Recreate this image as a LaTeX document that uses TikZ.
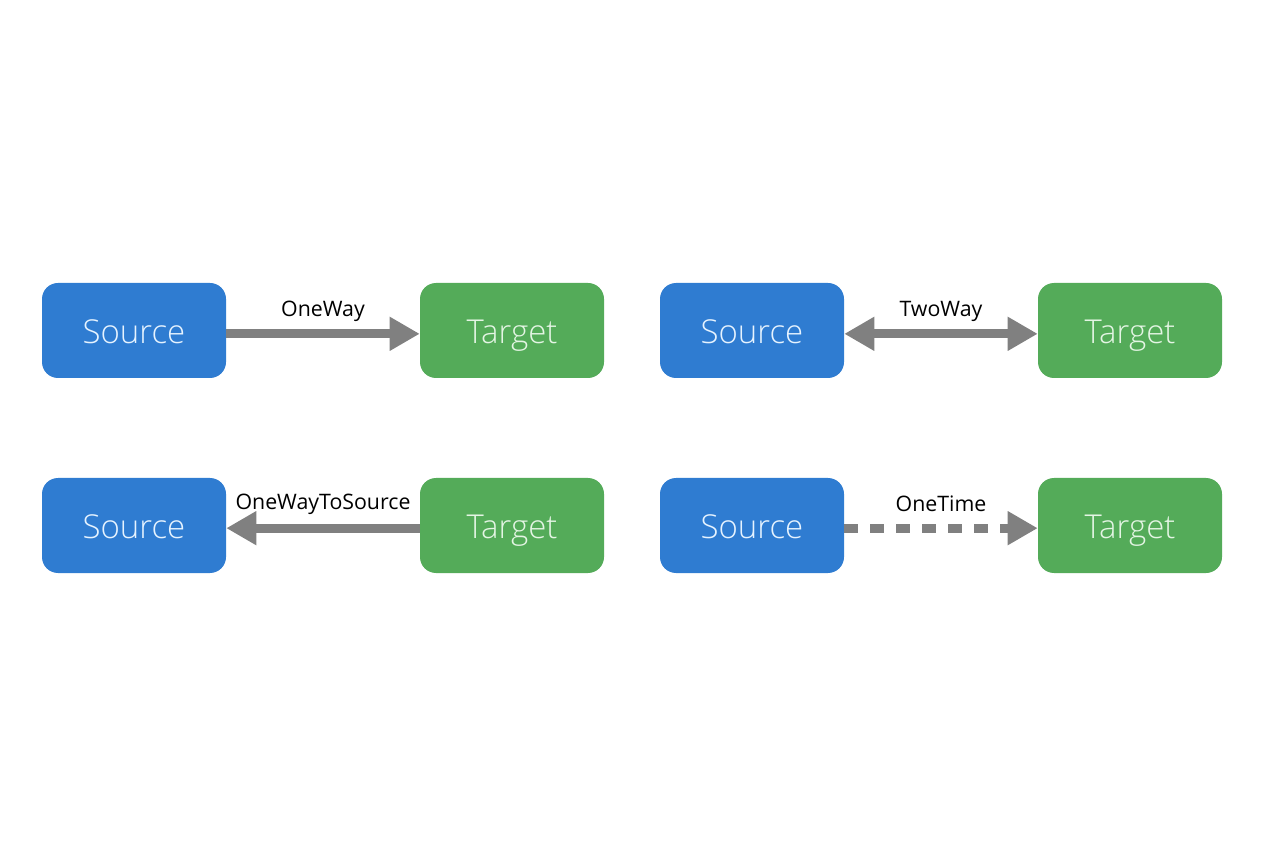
\documentclass[tikz,border=0pt]{standalone}
\usepackage{fontspec}
\setmainfont{Open Sans}
\newfontfamily\boxfont{Open Sans Light}
\usetikzlibrary{arrows.meta}
\definecolor{srcblue}{HTML}{2F7CD1}
\definecolor{tgtgreen}{HTML}{54AB59}
\definecolor{linkgray}{HTML}{808080}
\definecolor{srctext}{HTML}{E6F3FF}
\definecolor{tgttext}{HTML}{E4F5E4}
\tikzset{
  x=0.75pt,y=-0.75pt,
  boxbase/.style={minimum width=138pt,minimum height=71.25pt,rounded corners=12pt,inner sep=0pt,text height=18.8pt,text depth=0pt,font=\boxfont\fontsize{24.7}{28}\selectfont},
  srcbox/.style={boxbase,fill=srcblue,text=srctext},
  tgtbox/.style={boxbase,fill=tgtgreen,text=tgttext},
  link/.style={draw=linkgray,line width=6.5pt},
  tipend/.style={-{Triangle[length=22.5pt,width=24pt,fill=linkgray]}},
  tipboth/.style={{Triangle[length=22.5pt,width=24pt,fill=linkgray]}-{Triangle[length=22.5pt,width=24pt,fill=linkgray]}},
  tipstart/.style={{Triangle[length=22.5pt,width=24pt,fill=linkgray]}-},
  dashlink/.style={dash pattern=on 10.5pt off 9pt},
  linklabel/.style={text=black,font=\fontsize{16}{19}\selectfont,inner sep=0pt,anchor=base}
}
\begin{document}
\begin{tikzpicture}
\useasboundingbox (0,0) rectangle (1264,848);
\node[srcbox] (s1) at (134,330.5) {Source};
\node[tgtbox] (t1) at (512,330.5) {Target};
\node[srcbox] (s2) at (752,330.5) {Source};
\node[tgtbox] (t2) at (1130,330.5) {Target};
\node[srcbox] (s3) at (134,525.5) {Source};
\node[tgtbox] (t3) at (512,525.5) {Target};
\node[srcbox] (s4) at (752,525.5) {Source};
\node[tgtbox] (t4) at (1130,525.5) {Target};
\draw[link,tipend] ([yshift=-2.5pt]s1.east) -- ([yshift=-2.5pt]t1.west);
\draw[link,tipboth] ([yshift=-2.5pt]s2.east) -- ([yshift=-2.5pt]t2.west);
\draw[link,tipstart] ([yshift=-2pt]s3.east) -- ([yshift=-2pt]t3.west);
\draw[link,tipend,dashlink] ([yshift=-2pt]s4.east) -- ([yshift=-2pt]t4.west);
\node[linklabel] (l1) at (323,317) {OneWay};
\node[linklabel] (l2) at (941,317) {TwoWay};
\node[linklabel] (l3) at (323,509) {OneWayToSource};
\node[linklabel] (l4) at (941,511.5) {OneTime};
\end{tikzpicture}
\end{document}
